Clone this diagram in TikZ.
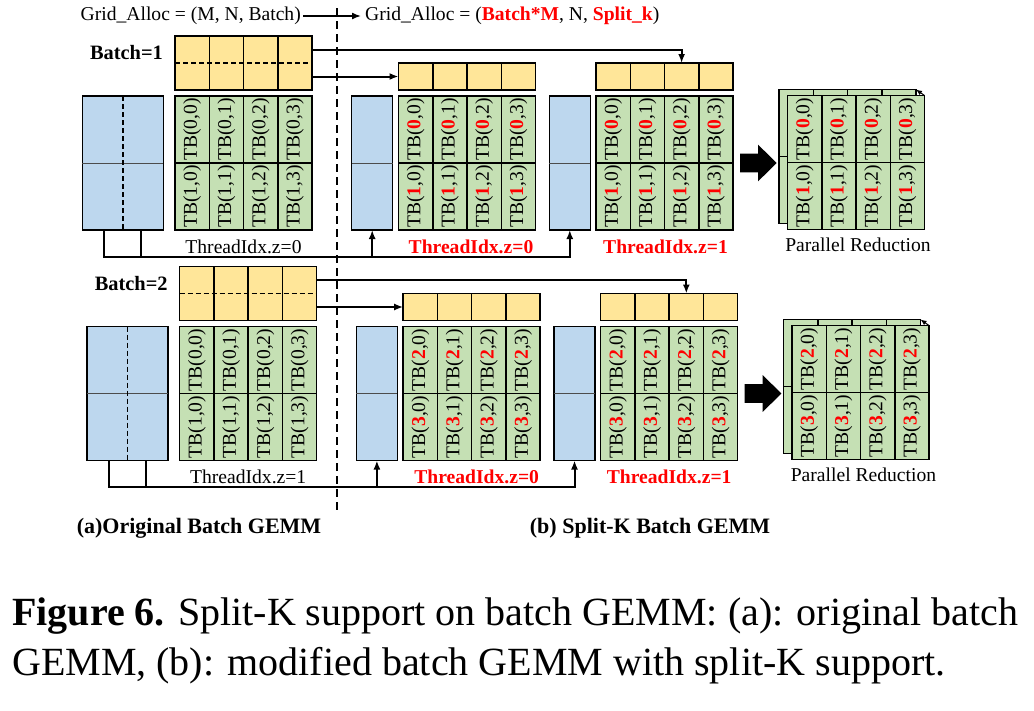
\documentclass[tikz,border=0pt]{standalone}
\usepackage{fontspec}
\setmainfont{Liberation Serif}
\usepackage{graphicx}
\usetikzlibrary{calc,arrows.meta}
\definecolor{gemmblue}{HTML}{BDD7EE}
\definecolor{gemmgreen}{HTML}{C5E0B4}
\definecolor{gemmyellow}{HTML}{FFE699}
\newcommand\rdig[1]{\textcolor{red}{\textbf{#1}}}
\newcommand\tb[2]{\rotatebox{90}{TB(#1,#2)}}
\tikzset{
  blk/.style={draw=black, line width=1.5pt, inner sep=0pt, outer sep=0pt, anchor=north west},
  tbframe/.style={blk, fill=gemmgreen, minimum width=137pt, minimum height=134pt},
  ybig/.style={blk, fill=gemmyellow, minimum width=137pt, minimum height=54pt},
  ysmall/.style={blk, fill=gemmyellow, minimum width=137pt, minimum height=27pt},
  bbig/.style={blk, fill=gemmblue, minimum width=81pt, minimum height=134pt},
  bsmall/.style={blk, fill=gemmblue, minimum width=41pt, minimum height=134pt},
  cellline/.style={line width=1.5pt},
  midline/.style={line width=1pt, black!70},
  halfdash/.style={line width=1.5pt, dash pattern=on 5pt off 3pt},
  sepline/.style={line width=2pt, dash pattern=on 8pt off 5pt},
  conn/.style={line width=2pt},
  arrowtip/.style={-{Latex[length=9pt,width=7pt]}},
  tblbl/.style={inner sep=0pt, font=\fontsize{19.6}{22}\selectfont},
  txt/.style={inner sep=0pt, font=\fontsize{19.6}{22}\selectfont},
  redtxt/.style={inner sep=0pt, text=red, font=\fontsize{19.6}{22}\selectfont\bfseries},
  batchtxt/.style={inner sep=0pt, font=\fontsize{20.4}{22}\selectfont\bfseries},
  subcap/.style={inner sep=0pt, font=\fontsize{22}{24}\selectfont\bfseries},
  captxt/.style={inner sep=0pt, anchor=base west, font=\fontsize{40}{50}\selectfont}
}
% yellow block with two rows, dashed middle
\def\yellowtwo[#1](#2){%
  \node[ybig] (#1) at (#2) {};
  \draw[cellline] ($(#1.north west)!0.25!(#1.north east)$) -- ($(#1.south west)!0.25!(#1.south east)$);
  \draw[cellline] (#1.north) -- (#1.south);
  \draw[cellline] ($(#1.north west)!0.75!(#1.north east)$) -- ($(#1.south west)!0.75!(#1.south east)$);
  \draw[halfdash] (#1.west) -- (#1.east);
}
% yellow block with one row
\def\yellowone[#1](#2){%
  \node[ysmall] (#1) at (#2) {};
  \draw[cellline] ($(#1.north west)!0.25!(#1.north east)$) -- ($(#1.south west)!0.25!(#1.south east)$);
  \draw[cellline] (#1.north) -- (#1.south);
  \draw[cellline] ($(#1.north west)!0.75!(#1.north east)$) -- ($(#1.south west)!0.75!(#1.south east)$);
}
\def\bluebig[#1](#2){%
  \node[bbig] (#1) at (#2) {};
  \draw[midline] (#1.west) -- (#1.east);
  \draw[halfdash] (#1.north) -- (#1.south);
}
\def\bluesmall[#1](#2){%
  \node[bsmall] (#1) at (#2) {};
  \draw[midline] (#1.west) -- (#1.east);
}
% empty sheet behind the reduction
\def\sheet[#1](#2){%
  \node[tbframe] (#1) at (#2) {};
  \draw[cellline] ($(#1.north west)!0.25!(#1.north east)$) -- ($(#1.south west)!0.25!(#1.south east)$);
  \draw[cellline] (#1.north) -- (#1.south);
  \draw[cellline] ($(#1.north west)!0.75!(#1.north east)$) -- ($(#1.south west)!0.75!(#1.south east)$);
  \draw[cellline] (#1.west) -- (#1.east);
}
% 2x4 grid of thread blocks
\def\tbgrid[#1](#2)(#3:#4){%
  \sheet[#1](#2)
  \node[tblbl] (#1-00) at ($(#1.north west)+(17.1,33.5)$) {\tb{#3}{0}};
  \node[tblbl] (#1-01) at ($(#1.north west)+(51.4,33.5)$) {\tb{#3}{1}};
  \node[tblbl] (#1-02) at ($(#1.north west)+(85.6,33.5)$) {\tb{#3}{2}};
  \node[tblbl] (#1-03) at ($(#1.north west)+(119.9,33.5)$) {\tb{#3}{3}};
  \node[tblbl] (#1-10) at ($(#1.north west)+(17.1,100.5)$) {\tb{#4}{0}};
  \node[tblbl] (#1-11) at ($(#1.north west)+(51.4,100.5)$) {\tb{#4}{1}};
  \node[tblbl] (#1-12) at ($(#1.north west)+(85.6,100.5)$) {\tb{#4}{2}};
  \node[tblbl] (#1-13) at ($(#1.north west)+(119.9,100.5)$) {\tb{#4}{3}};
}
% big black arrow, tail at #1
\def\pusharrow(#1){%
  \fill ($(#1)+(0,-9.4)$) -- ++(18,0) -- ++(0,-9) -- ++(18.7,18.4) -- ++(-18.7,18.4) -- ++(0,-9) -- ++(-18,0) -- cycle;
}

\begin{document}
\begin{tikzpicture}[x=1pt, y=-1pt]
			%%%%% START %%%%%
			\useasboundingbox (0,0) rectangle (1034,710);
			
			\node[txt, anchor=east] (allocOld) at (301,16) {Grid\_Alloc = (M, N, Batch)};
			\node[txt, anchor=west] (allocNew) at (365,16) {Grid\_Alloc = (\rdig{Batch*M}, N, \rdig{Split\_k})};
			\draw[line width=1.5pt, arrowtip, shorten <=2pt, shorten >=4pt] (allocOld) -- (allocNew);
			
			\coordinate (sepTop) at (336.5,8);
			\coordinate (sepBot) at (336.5,510);
			\draw[sepline] (sepTop) -- (sepBot);
			
			%%%%% BATCH 1 %%%%%
			\yellowtwo[origY1](175,36)
			\tbgrid[origG1](175,96)(0:1)
			\bluebig[origB1](82.3,96)
			\node[batchtxt] (batch1) at ($(origY1.west)+(-48.5,-10)$) {Batch=1};
			\node[txt] (zOrig1) at ($(origG1.south)+(0,16.7)$) {ThreadIdx.z=0};
			
			\yellowone[splitY1a](398.5,63)
			\bluesmall[splitB1a](351.7,96)
			\tbgrid[splitG1a](398.5,96)(\rdig{0}:\rdig{1})
			\node[redtxt] (zSplit1a) at ($(splitG1a.south)+(4,16.7)$) {ThreadIdx.z=0};
			
			\bluesmall[splitB1b](549.3,96)
			\yellowone[splitY1b](596,63)
			\tbgrid[splitG1b](596,96)(\rdig{0}:\rdig{1})
			\node[redtxt] (zSplit1b) at ($(splitG1b.south)+(1,16.7)$) {ThreadIdx.z=1};
			
			\coordinate (push1) at ($(splitG1b.east)+(7,0)$);
			\pusharrow(push1)
			\sheet[redBack1](779,89.5)
			\tbgrid[redFront1](787.5,95.5)(\rdig{0}:\rdig{1})
			\draw[line width=1pt, -{Latex[length=6pt,width=5pt]}] (redFront1.north east) -- (redBack1.north east);
			\node[txt] (reduce1) at ($(redFront1.south)+(2,15.5)$) {Parallel Reduction};
			
			\draw[conn, arrowtip] ($(origY1.north east)!0.25!(origY1.south east)$) -| ($(splitY1b.north west)!0.625!(splitY1b.north east)$);
			\draw[conn, arrowtip] ($(origY1.north east)!0.75!(origY1.south east)$) -- (splitY1a.west);
			
			\coordinate (bus1) at ($(origB1.south)+(0,26.7)$);
			\coordinate (legL1) at ($(origB1.south west)!0.27!(origB1.south east)$);
			\coordinate (legR1) at ($(origB1.south west)!0.725!(origB1.south east)$);
			\draw[conn, arrowtip] (legL1) |- (splitB1b.south |- bus1) -- (splitB1b.south);
			\draw[conn] (legR1) -- (legR1 |- bus1);
			\draw[conn, arrowtip] (splitB1a.south |- bus1) -- (splitB1a.south);
			
			%%%%% BATCH 2 %%%%%
			\yellowtwo[origY2](179.7,266.5)
			\tbgrid[origG2](179.7,326.5)(0:1)
			\bluebig[origB2](87,326.5)
			\node[batchtxt] (batch2) at ($(origY2.west)+(-48.5,-10)$) {Batch=2};
			\node[txt] (zOrig2) at ($(origG2.south)+(0,16.7)$) {ThreadIdx.z=1};
			
			\yellowone[splitY2a](403.2,293.5)
			\bluesmall[splitB2a](356.4,326.5)
			\tbgrid[splitG2a](403.2,326.5)(\rdig{2}:\rdig{3})
			\node[redtxt] (zSplit2a) at ($(splitG2a.south)+(5,16.7)$) {ThreadIdx.z=0};
			
			\bluesmall[splitB2b](554,326.5)
			\yellowone[splitY2b](600.7,293.5)
			\tbgrid[splitG2b](600.7,326.5)(\rdig{2}:\rdig{3})
			\node[redtxt] (zSplit2b) at ($(splitG2b.south)+(0,16.7)$) {ThreadIdx.z=1};
			
			\coordinate (push2) at ($(splitG2b.east)+(7,0)$);
			\pusharrow(push2)
			\sheet[redBack2](783.5,319.5)
			\tbgrid[redFront2](792,325.5)(\rdig{2}:\rdig{3})
			\draw[line width=1pt, -{Latex[length=6pt,width=5pt]}] (redFront2.north east) -- (redBack2.north east);
			\node[txt] (reduce2) at ($(redFront2.south)+(3,15.5)$) {Parallel Reduction};
			
			\draw[conn, arrowtip] ($(origY2.north east)!0.25!(origY2.south east)$) -| ($(splitY2b.north west)!0.625!(splitY2b.north east)$);
			\draw[conn, arrowtip] ($(origY2.north east)!0.75!(origY2.south east)$) -- (splitY2a.west);
			
			\coordinate (bus2) at ($(origB2.south)+(0,26.7)$);
			\coordinate (legL2) at ($(origB2.south west)!0.27!(origB2.south east)$);
			\coordinate (legR2) at ($(origB2.south west)!0.725!(origB2.south east)$);
			\draw[conn, arrowtip] (legL2) |- (splitB2b.south |- bus2) -- (splitB2b.south);
			\draw[conn] (legR2) -- (legR2 |- bus2);
			\draw[conn, arrowtip] (splitB2a.south |- bus2) -- (splitB2a.south);
			
			%%%%% CAPTIONS %%%%%
			\node[subcap] (capA) at (199,528) {(a)Original Batch GEMM};
			\node[subcap] (capB) at (650,528) {(b) Split-K Batch GEMM};
			\node[captxt] (figLine1) at (12,625) {\textbf{Figure 6.} Split-K support on batch GEMM: (a): original batch};
			\node[captxt] (figLine2) at (12,675) {GEMM, (b): modified batch GEMM with split-K support.};
			
			%%%%% END %%%%%
		\end{tikzpicture}
\end{document}
